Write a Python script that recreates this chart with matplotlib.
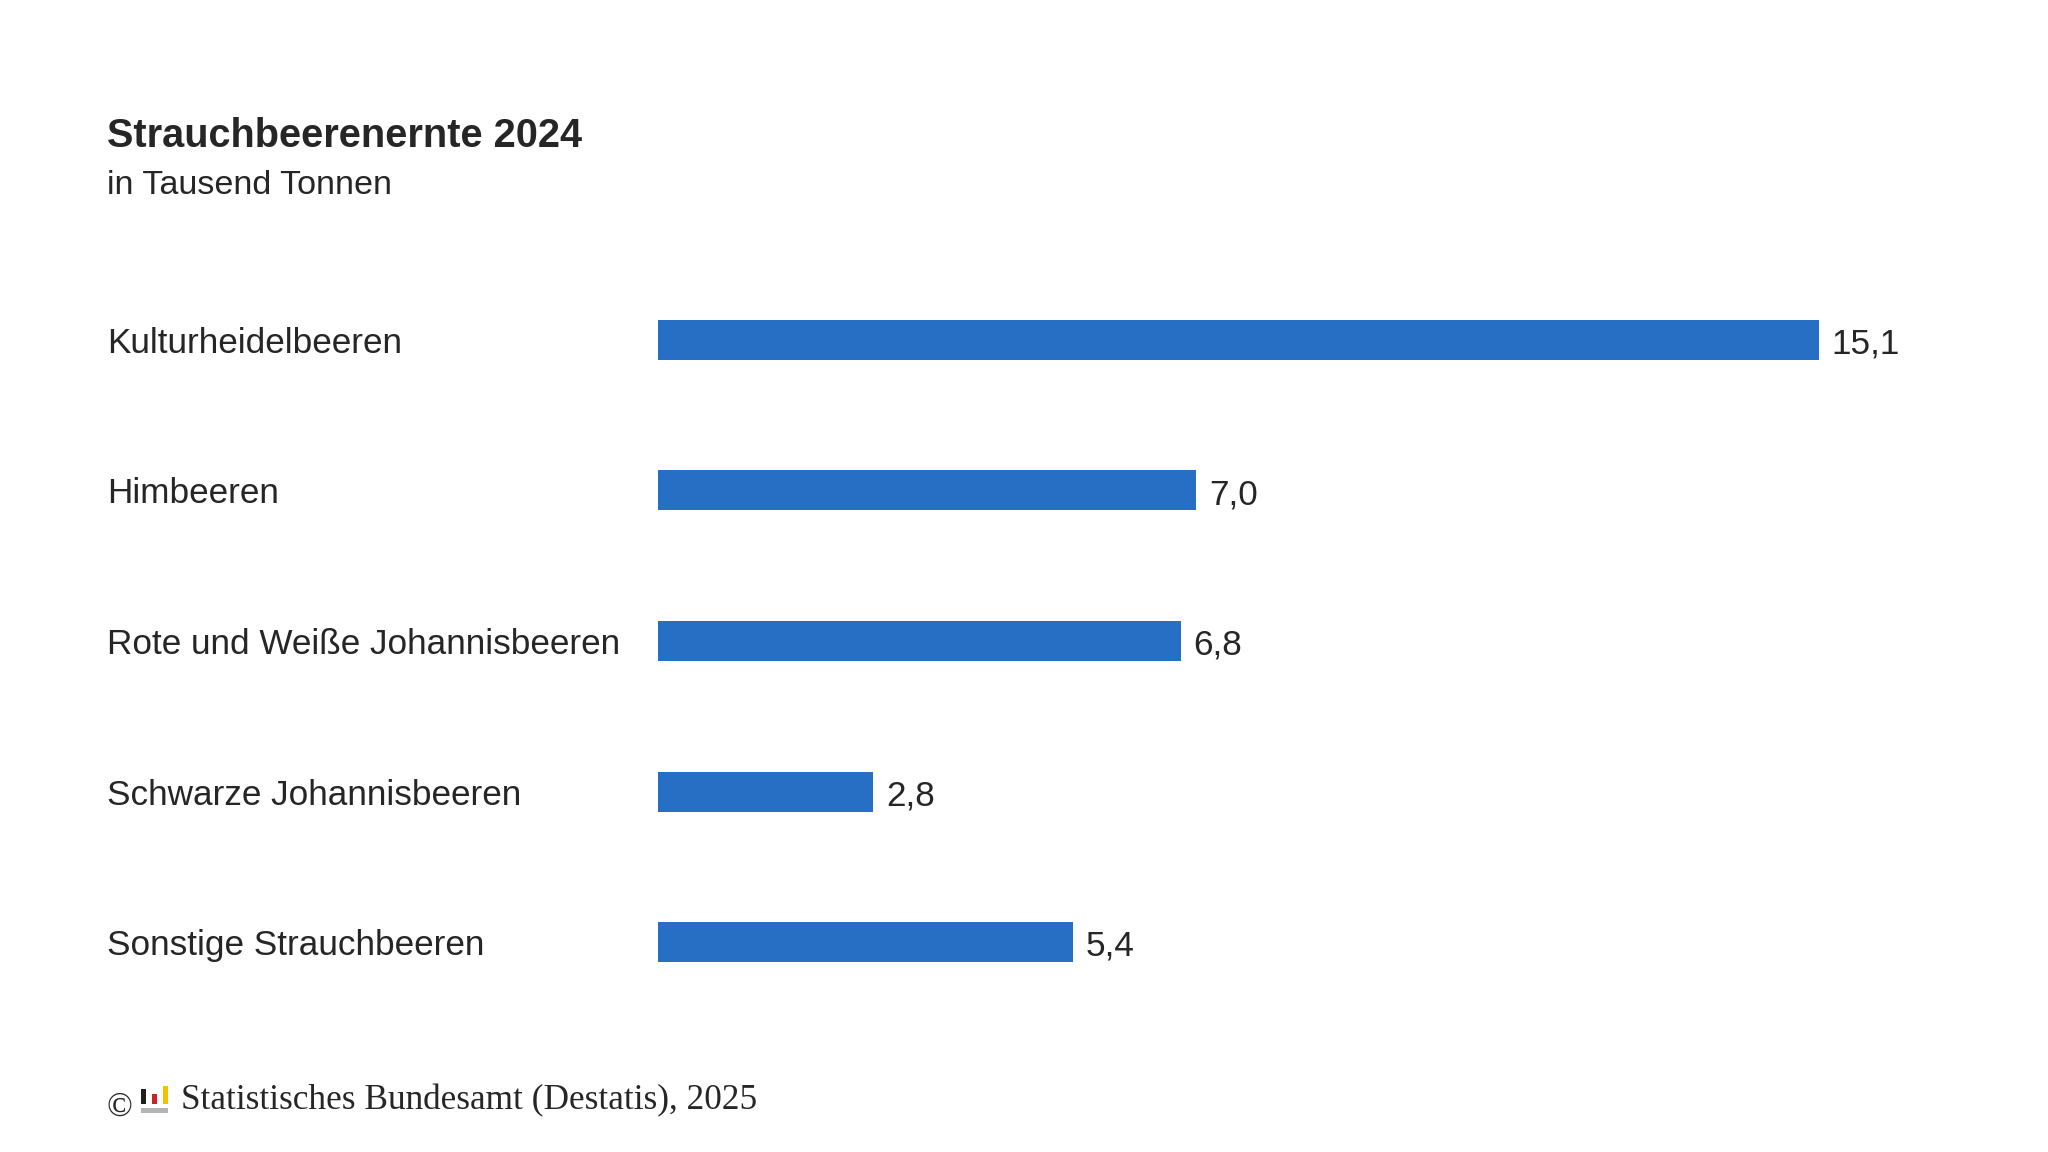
import matplotlib
matplotlib.use('Agg')
import matplotlib.pyplot as plt
import matplotlib.transforms as mtransforms
from matplotlib.patches import Rectangle

categories = ['Kulturheidelbeeren', 'Himbeeren', 'Rote und Weiße Johannisbeeren',
              'Schwarze Johannisbeeren', 'Sonstige Strauchbeeren']
values = [15.1, 7.0, 6.8, 2.8, 5.4]
value_labels = ['15,1', '7,0', '6,8', '2,8', '5,4']

title = 'Strauchbeerenernte 2024'
subtitle = 'in Tausend Tonnen'
source = 'Statistisches Bundesamt (Destatis), 2025'

W, H = 2048, 1152
bar_color = '#266FC4'
text_color = '#262626'

plt.rcParams['font.family'] = ['Liberation Sans', 'DejaVu Sans']

fig = plt.figure(figsize=(W / 100, H / 100), dpi=100)
fig.patch.set_facecolor('white')

# axes placed in pixel terms: bars start at x=658, row centres 340..942
left, right, top, bottom = 658, 1960, 227, 1055
ax = fig.add_axes([left / W, 1 - bottom / H, (right - left) / W, (bottom - top) / H])
ax.set_xlim(0, 16.93)
ax.set_ylim(len(categories) - 0.25, -0.75)
ax.axis('off')

ypos = list(range(len(categories)))
ax.barh(ypos, values, height=0.266, color=bar_color)

for y, v, lab in zip(ypos, values, value_labels):
    ax.annotate(lab, (v, y), xytext=(9, -3), textcoords='offset points',
                ha='left', va='center', fontsize=25.3, color=text_color)

trans = mtransforms.blended_transform_factory(fig.transFigure, ax.transData)
for y, cat in zip(ypos, categories):
    ax.annotate(cat, (107 / W, y), xycoords=trans, xytext=(0, -2.5),
                textcoords='offset points', ha='left', va='center',
                fontsize=25.3, color=text_color)

fig.text(107 / W, 1 - 147 / H, title, ha='left', va='baseline',
         fontsize=28.6, fontweight='bold', color=text_color)
fig.text(107 / W, 1 - 194 / H, subtitle, ha='left', va='baseline',
         fontsize=24.6, color=text_color)

# footer: copyright sign, small logo, source in serif
fig.text(106 / W, 1 - 1116 / H, '©', ha='left', va='baseline',
         fontsize=24.5, color=text_color, family='Liberation Serif')
logo = [(141, 1089, 5, 15, '#1f1f1f'), (152, 1094, 5, 10, '#d0202a'),
        (163, 1086, 5, 18, '#f5c000'), (141, 1108, 27, 5, '#b4b4b4')]
for x0, y0, w, h, c in logo:
    fig.patches.append(Rectangle((x0 / W, 1 - (y0 + h) / H), w / W, h / H,
                                 transform=fig.transFigure, color=c, lw=0))
fig.text(181 / W, 1 - 1109 / H, source, ha='left', va='baseline',
         fontsize=25.4, color=text_color, family='Liberation Serif')

fig.savefig('out.png', dpi=100, facecolor='white')
